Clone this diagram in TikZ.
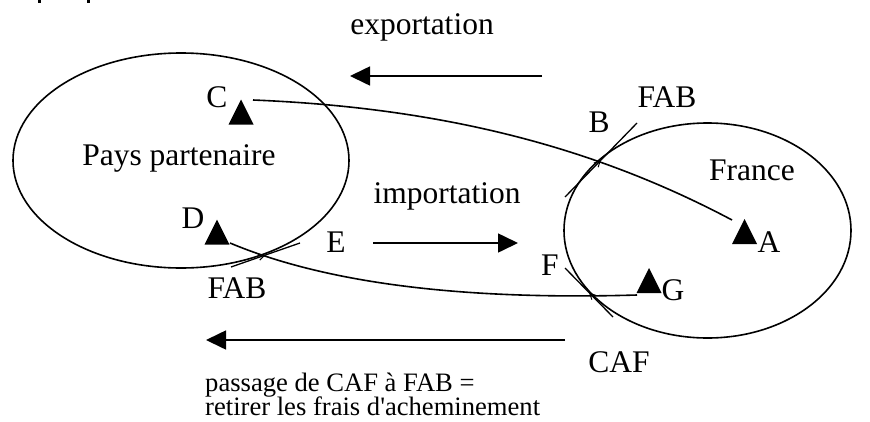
\documentclass[tikz,border=0pt]{standalone}
\usepackage{fontspec}
\setmainfont{Liberation Serif}
\usetikzlibrary{arrows.meta,shapes.geometric,decorations.markings}
\tikzset{
  lbl/.style={anchor=base, inner sep=0pt, font=\fontsize{31.5}{36}\selectfont},
  captext/.style={anchor=base west, inner sep=0pt, font=\fontsize{26.6}{30}\selectfont},
  region/.style={draw, ellipse, inner sep=0pt, line width=1.6pt},
  flow/.style={line width=1.6pt},
  bigarrow/.style={line width=1.6pt, -{Triangle[length=20pt,width=19pt]}},
  tangent/.style={line width=1.3pt, postaction={decorate},
    decoration={markings, mark=at position 0.5 with {\arrow{Straight Barb[length=6pt,width=6pt,line width=1pt]}}}},
  tri/.style={fill=black}
}
\begin{document}
\begin{tikzpicture}[x=1pt,y=-1pt]
\useasboundingbox (0,0) rectangle (870,421);
% cropped fragments at the top
\fill (38,0) rectangle (40.5,3);
\fill (87,0) rectangle (89.5,3);

% regions
\node[region, minimum width=336pt, minimum height=215pt] (pays) at (181,160.5) {};
\node[region, minimum width=287pt, minimum height=215pt] (france) at (707.5,230.5) {};

% triangles
\coordinate (C) at (241,112);
\coordinate (D) at (217,232);
\coordinate (A) at (744.5,231.5);
\coordinate (G) at (649,280.5);
\foreach \p in {C,D,A,G}{
  \fill[tri, shift={(\p)}] (-12.5,12.5) -- (12.5,12.5) -- (0,-12.5) -- cycle;
}

% labels
\node[lbl] (exp) at (422,34) {exportation};
\node[lbl] (imp) at (447,203) {importation};
\node[lbl] (pp) at (179,165) {Pays partenaire};
\node[lbl] (fr) at (752,180) {France};
\node[lbl] (lC) at (217,107) {C};
\node[lbl] (lD) at (193,228) {D};
\node[lbl] (lA) at (769,252) {A};
\node[lbl] (lG) at (673,300) {G};
\node[lbl] (lB) at (599,132) {B};
\node[lbl] (lE) at (336,252) {E};
\node[lbl] (lF) at (550,275) {F};
\node[lbl] (fab1) at (667,107) {FAB};
\node[lbl] (fab2) at (237,298) {FAB};
\node[lbl] (caf) at (619,372) {CAF};
\node[captext] (cap1) at (205,391) {passage de CAF à FAB =};
\node[captext] (cap2) at (205,415.5) {retirer les frais d\textquotesingle acheminement};

% flows between points
\coordinate (Cs) at (253,100);
\coordinate (Ae) at (732,220);
\coordinate (Ds) at (230,243);
\coordinate (Ge) at (637,295);
\draw[flow] (Cs) .. controls (450,108) and (600,150) .. (Ae);
\draw[flow] (Ds) .. controls (330,285) and (470,300) .. (Ge);

% tangents at the borders
\coordinate (tB1) at (565,197); \coordinate (tB2) at (637,123);
\coordinate (tE1) at (231,267); \coordinate (tE2) at (300,243);
\coordinate (tF1) at (613,317); \coordinate (tF2) at (565,268);
\draw[tangent] (tB1) -- (tB2);
\draw[tangent] (tE1) -- (tE2);
\draw[tangent] (tF1) -- (tF2);

% big arrows
\coordinate (x1) at (542,76); \coordinate (x2) at (350,76);
\coordinate (i1) at (373,243); \coordinate (i2) at (518,243);
\coordinate (c1) at (565,340); \coordinate (c2) at (206,340);
\draw[bigarrow] (x1) -- (x2);
\draw[bigarrow] (i1) -- (i2);
\draw[bigarrow] (c1) -- (c2);
\end{tikzpicture}
\end{document}
